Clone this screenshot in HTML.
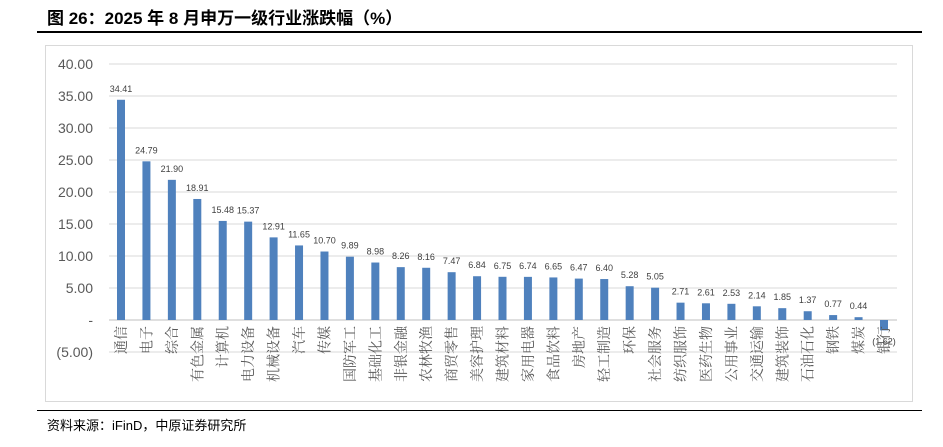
<!DOCTYPE html>
<html><head><meta charset="utf-8"><style>
body{margin:0;background:#fff;font-family:"Liberation Sans","Noto Sans CJK SC",sans-serif}
</style></head><body>
<svg width="943" height="442" xmlns="http://www.w3.org/2000/svg">
<text x="47" y="24" font-size="17" font-weight="bold" font-family="Liberation Sans, Noto Sans CJK SC, sans-serif">图 26：2025 年 8 月申万一级行业涨跌幅（%）</text>
<rect x="37" y="31" width="885" height="2" fill="#000"/>
<rect x="45.5" y="45.5" width="867" height="356" fill="none" stroke="#d9d9d9"/>
<g id="grid"></g><g id="bars"></g>
<rect x="37" y="410" width="885" height="1" fill="#000"/>
<text x="47" y="430" font-size="13" font-family="Liberation Sans, Noto Sans CJK SC, sans-serif">资料来源：iFinD，中原证券研究所</text>
</svg>
<script>
const categories=["通信","电子","综合","有色金属","计算机","电力设备","机械设备","汽车","传媒","国防军工","基础化工","非银金融","农林牧渔","商贸零售","美容护理","建筑材料","家用电器","食品饮料","房地产","轻工制造","环保","社会服务","纺织服饰","医药生物","公用事业","交通运输","建筑装饰","石油石化","钢铁","煤炭","银行"];
const values=[34.41,24.79,21.90,18.91,15.48,15.37,12.91,11.65,10.70,9.89,8.98,8.26,8.16,7.47,6.84,6.75,6.74,6.65,6.47,6.40,5.28,5.05,2.71,2.61,2.53,2.14,1.85,1.37,0.77,0.44,-1.62];
const ticks=[40,35,30,25,20,15,10,5,0,-5];
const NS="http://www.w3.org/2000/svg";
const y=v=>320-v*6.4;
const x0=121, step=(884-121)/(categories.length-1);
const x=i=>x0+i*step;
const grid=document.getElementById('grid'), bars=document.getElementById('bars');
function mk(tag,attrs,parent){const e=document.createElementNS(NS,tag);for(const k in attrs)e.setAttribute(k,attrs[k]);parent.appendChild(e);return e;}
ticks.forEach(t=>{
 const l=mk('line',{x1:109,x2:897,y1:y(t),y2:y(t),stroke:t===0?'#bfbfbf':'#d9d9d9','stroke-width':1},grid);
 
 
 const tx=mk('text',{x:93,y:y(t)+5,'text-anchor':'end','font-size':14,fill:'#595959'},grid);
 tx.textContent=t===0?'-':(t<0?'('+Math.abs(t).toFixed(2)+')':t.toFixed(2));
 
 
});
categories.forEach((c,i)=>{
 const v=values[i], top=Math.min(y(v),y(0)), h=Math.abs(y(v)-y(0));
 const r=mk('rect',{x:x(i)-4,y:top,width:8,height:h,fill:'#4f81bd'},bars);
 
 
 const lv=mk('text',{x:x(i),y:v>=0?y(v)-8:y(v)+14,'text-anchor':'middle','font-size':9,fill:'#404040'},bars);
 lv.textContent=v<0?'('+Math.abs(v).toFixed(2)+')':v.toFixed(2);
 
 
 const lc=mk('text',{x:0,y:0,'text-anchor':'end','font-size':14,fill:'#595959','font-family':'Liberation Serif, Noto Serif CJK SC, serif',transform:`translate(${x(i)+5},326) rotate(-90)`},bars);
 lc.textContent=c;
 
 
});
</script>
</body></html>
